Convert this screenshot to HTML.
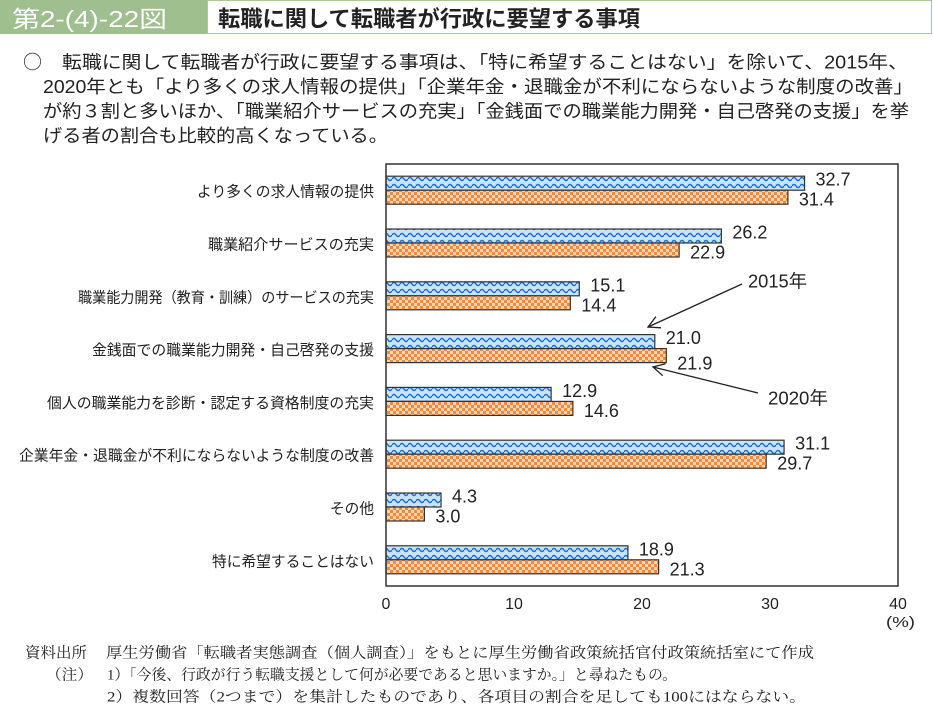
<!DOCTYPE html>
<html><head><meta charset="utf-8">
<style>
html,body{margin:0;padding:0;background:#fff;}
svg{display:block;}
.jp{font-family:"Liberation Sans","Noto Sans CJK JP",sans-serif;}
.cj{font-family:"Noto Sans CJK JP",sans-serif;}
.num{font-family:"Liberation Sans","Noto Sans CJK JP",sans-serif;}
.ser{font-family:"Liberation Serif","Noto Serif CJK SC",serif;}
</style></head>
<body>
<svg width="933" height="722" viewBox="0 0 933 722" xmlns="http://www.w3.org/2000/svg">
<defs>
<pattern id="wave" width="8" height="7" patternUnits="userSpaceOnUse">
<rect width="8" height="7" fill="#c8e4fa"/>
<path d="M0 4 Q2 1 4 4 T8 4" fill="none" stroke="#1f6fd0" stroke-width="1.5"/>
</pattern>
<pattern id="chk" width="6" height="6" patternUnits="userSpaceOnUse">
<rect width="6" height="6" fill="#fcd5ae"/>
<rect width="3" height="3" fill="#f08a3e"/>
<rect x="3" y="3" width="3" height="3" fill="#f08a3e"/>
</pattern>
</defs>

<!-- header -->
<rect x="0" y="0" width="207" height="34" fill="#9fbf8f"/>
<rect x="207.5" y="0.5" width="724" height="33" fill="#fff" stroke="#a8c89a" stroke-width="1"/>
<text class="jp" x="12" y="27" font-size="23" fill="#fff" textLength="155" lengthAdjust="spacingAndGlyphs">第2-(4)-22図</text>
<text class="jp" x="218" y="26.5" font-size="22" font-weight="bold" fill="#222" textLength="422" lengthAdjust="spacingAndGlyphs">転職に関して転職者が行政に要望する事項</text>

<!-- summary -->
<g class="jp" font-size="18" fill="#222">
<text class="cj" x="23" y="68.5" font-size="19">○</text>
<text x="62" y="68.3" textLength="846" lengthAdjust="spacingAndGlyphs">転職に関して転職者が行政に要望する事項は、「特に希望することはない」を除いて、2015年、</text>
<text x="43" y="92.8" textLength="870" lengthAdjust="spacingAndGlyphs">2020年とも「より多くの求人情報の提供」「企業年金・退職金が不利にならないような制度の改善」</text>
<text x="43" y="117.3" textLength="866" lengthAdjust="spacingAndGlyphs">が約３割と多いほか、「職業紹介サービスの充実」「金銭面での職業能力開発・自己啓発の支援」を挙</text>
<text x="43" y="141.8" textLength="345" lengthAdjust="spacingAndGlyphs">げる者の割合も比較的高くなっている。</text>
</g>

<!-- category labels -->
<g class="jp" font-size="15" fill="#222">
<text x="197" y="196.7" textLength="177" lengthAdjust="spacingAndGlyphs">より多くの求人情報の提供</text>
<text x="208" y="249.5" textLength="166" lengthAdjust="spacingAndGlyphs">職業紹介サービスの充実</text>
<text x="78" y="302.3" textLength="296" lengthAdjust="spacingAndGlyphs">職業能力開発（教育・訓練）のサービスの充実</text>
<text x="92" y="355.1" textLength="282" lengthAdjust="spacingAndGlyphs">金銭面での職業能力開発・自己啓発の支援</text>
<text x="47" y="407.9" textLength="327" lengthAdjust="spacingAndGlyphs">個人の職業能力を診断・認定する資格制度の充実</text>
<text x="19" y="460.7" textLength="355" lengthAdjust="spacingAndGlyphs">企業年金・退職金が不利にならないような制度の改善</text>
<text x="330" y="513.5" textLength="44" lengthAdjust="spacingAndGlyphs">その他</text>
<text x="212" y="566.3" textLength="162" lengthAdjust="spacingAndGlyphs">特に希望することはない</text>
</g>

<!-- bars -->
<g stroke="#333" stroke-width="1.2">
<rect x="386" y="176.2" width="418.56" height="14" fill="url(#wave)"/>
<rect x="386" y="190.2" width="401.92" height="14" fill="url(#chk)"/>
<rect x="386" y="229" width="335.36" height="14" fill="url(#wave)"/>
<rect x="386" y="243" width="293.12" height="14" fill="url(#chk)"/>
<rect x="386" y="281.8" width="193.28" height="14" fill="url(#wave)"/>
<rect x="386" y="295.8" width="184.32" height="14" fill="url(#chk)"/>
<rect x="386" y="334.6" width="268.8" height="14" fill="url(#wave)"/>
<rect x="386" y="348.6" width="280.32" height="14" fill="url(#chk)"/>
<rect x="386" y="387.4" width="165.12" height="14" fill="url(#wave)"/>
<rect x="386" y="401.4" width="186.88" height="14" fill="url(#chk)"/>
<rect x="386" y="440.2" width="398.08" height="14" fill="url(#wave)"/>
<rect x="386" y="454.2" width="380.16" height="14" fill="url(#chk)"/>
<rect x="386" y="493" width="55.04" height="14" fill="url(#wave)"/>
<rect x="386" y="507" width="38.4" height="14" fill="url(#chk)"/>
<rect x="386" y="545.8" width="241.92" height="14" fill="url(#wave)"/>
<rect x="386" y="559.8" width="272.64" height="14" fill="url(#chk)"/>
</g>

<!-- value labels -->
<g class="num" font-size="18" fill="#222">
<text x="815.5" y="185.7">32.7</text>
<text x="798.9" y="205.7">31.4</text>
<text x="732.4" y="238.5">26.2</text>
<text x="690.1" y="258.5">22.9</text>
<text x="590.3" y="291.3">15.1</text>
<text x="581.3" y="311.3">14.4</text>
<text x="665.8" y="344.1">21.0</text>
<text x="677.3" y="369.6">21.9</text>
<text x="562.1" y="396.9">12.9</text>
<text x="583.9" y="416.9">14.6</text>
<text x="795.1" y="449.7">31.1</text>
<text x="777.2" y="469.7">29.7</text>
<text x="452" y="502.5">4.3</text>
<text x="435.4" y="522.5">3.0</text>
<text x="638.9" y="555.3">18.9</text>
<text x="669.6" y="575.3">21.3</text>
</g>

<!-- frame -->
<rect x="386" y="164" width="512" height="422" fill="none" stroke="#333" stroke-width="1.5"/>

<!-- ticks -->
<g class="num" font-size="16" fill="#222" text-anchor="middle">
<text x="386" y="609">0</text>
<text x="514" y="609">10</text>
<text x="642" y="609">20</text>
<text x="770" y="609">30</text>
<text x="898" y="609">40</text>
</g>
<text class="num" x="886" y="627" font-size="15" fill="#222" textLength="29" lengthAdjust="spacingAndGlyphs">(%)</text>

<!-- annotations -->
<g stroke="#222" stroke-width="1.3" fill="none">
<line x1="742" y1="284" x2="648" y2="327"/>
<polyline points="661,327.8 648,327 655.9,316.7"/>
<line x1="758" y1="393" x2="653" y2="367"/>
<polyline points="662.7,375.7 653,367 665.6,363.8"/>
</g>
<g class="jp" font-size="18" fill="#222">
<text x="748" y="287.5" textLength="59" lengthAdjust="spacingAndGlyphs">2015年</text>
<text x="768" y="404.5" textLength="60" lengthAdjust="spacingAndGlyphs">2020年</text>
</g>

<!-- notes -->
<g class="ser" font-size="15" fill="#222">
<text x="25" y="657.5" textLength="62" lengthAdjust="spacingAndGlyphs">資料出所</text>
<text x="106" y="657.5" textLength="708" lengthAdjust="spacingAndGlyphs">厚生労働省「転職者実態調査（個人調査）」をもとに厚生労働省政策統括官付政策統括室にて作成</text>
<text x="46" y="679.5" textLength="47" lengthAdjust="spacingAndGlyphs">（注）</text>
<text x="107" y="679.5" textLength="570" lengthAdjust="spacingAndGlyphs">1）「今後、行政が行う転職支援として何が必要であると思いますか。」と尋ねたもの。</text>
<text x="107" y="701.5" textLength="699" lengthAdjust="spacingAndGlyphs">2）複数回答（2つまで）を集計したものであり、各項目の割合を足しても100にはならない。</text>
</g>
</svg>
</body></html>
